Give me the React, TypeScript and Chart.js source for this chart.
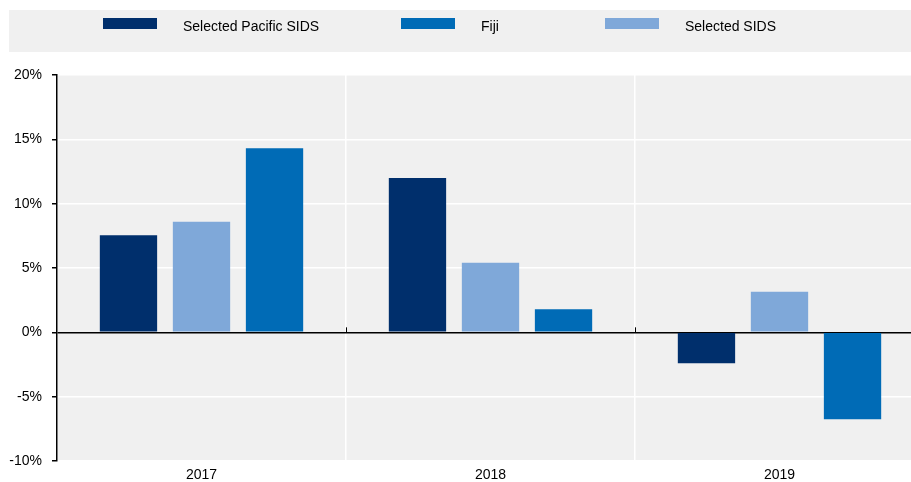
import React, { useEffect, useRef } from "react";
import { Chart, registerables } from "chart.js";

Chart.register(...registerables);

const categories = ["2017", "2018", "2019"];
const pacificSids = [7.55, 12.0, -2.4];
const selectedSids = [8.6, 5.4, 3.15];
const fiji = [14.3, 1.8, -6.75];
const yTicks = [-10, -5, 0, 5, 10, 15, 20];

const seriesNames = ["Selected Pacific SIDS", "Selected SIDS", "Fiji"];
const seriesColors = ["#002F6C", "#7FA8D9", "#006BB6"];
const legendOrder = [0, 2, 1];
const legendItemX = [103, 401, 605];

const FONT = "'Liberation Sans', Arial, sans-serif";
const CANVAS_W = 924;

const bgPlugin = {
  id: "bgPlugin",
  beforeDraw(chart: any) {
    const { ctx, chartArea } = chart;
    ctx.save();
    ctx.fillStyle = "#f0f0f0";
    ctx.fillRect(chartArea.left, chartArea.top, chartArea.right - chartArea.left, chartArea.bottom - chartArea.top);
    ctx.restore();
  },
  afterDraw(chart: any) {
    const { ctx } = chart;
    ctx.save();
    ctx.fillStyle = "#f0f0f0";
    ctx.fillRect(9, 10, chart.width - 9, 42);
    ctx.font = `14px ${FONT}`;
    ctx.textBaseline = "middle";
    ctx.textAlign = "left";
    legendOrder.forEach((di, k) => {
      const ds = chart.data.datasets[di];
      const x = legendItemX[k];
      ctx.fillStyle = ds.backgroundColor;
      ctx.fillRect(x, 18, 54, 11);
      ctx.fillStyle = "#000";
      ctx.fillText(ds.label, x + 80, 27);
    });
    const xs = chart.scales.x;
    const ys = chart.scales.y;
    const y0 = ys.getPixelForValue(0);
    ctx.strokeStyle = "#000";
    ctx.lineWidth = 1;
    for (let i = 0; i < categories.length - 1; i++) {
      const bx = Math.round((xs.getPixelForValue(i) + xs.getPixelForValue(i + 1)) / 2) + 0.5;
      ctx.beginPath();
      ctx.moveTo(bx, y0);
      ctx.lineTo(bx, y0 - 5);
      ctx.stroke();
    }
    ctx.restore();
  },
};

export default function App() {
  const ref = useRef<HTMLCanvasElement | null>(null);
  useEffect(() => {
    if (!ref.current) return;
    const data = [pacificSids, selectedSids, fiji];
    const chart = new Chart(ref.current, {
      type: "bar",
      data: {
        labels: categories,
        datasets: data.map((d, i) => ({
          label: seriesNames[i],
          data: d,
          backgroundColor: seriesColors[i],
          borderWidth: 0,
          categoryPercentage: 0.758,
          barPercentage: 0.785,
        })),
      },
      options: {
        responsive: false,
        animation: false,
        layout: { padding: { top: 75, left: 0, right: 0, bottom: 0 } },
        plugins: { legend: { display: false }, tooltip: { enabled: false } },
        scales: {
          x: {
            offset: true,
            grid: { offset: true, color: "#ffffff", lineWidth: 1.5, drawTicks: false },
            border: { display: false },
            ticks: { color: "#000", font: { family: FONT, size: 14 }, padding: 6 },
            afterFit: (s: any) => { s.height = 21; },
          },
          y: {
            min: -10,
            max: 20,
            afterBuildTicks: (s: any) => { s.ticks = yTicks.map((v) => ({ value: v })); },
            grid: {
              color: (c: any) => (c.tick && c.tick.value === 0 ? "#000000" : "#ffffff"),
              lineWidth: (c: any) => (c.tick && c.tick.value === 0 ? 1.5 : 1.5),
              tickColor: "#000",
              tickLength: 5,
              drawTicks: true,
            },
            border: { display: true, color: "#000", width: 1.5 },
            ticks: {
              color: "#000",
              font: { family: FONT, size: 14 },
              padding: 10,
              callback: (v: any) => `${v}%`,
            },
            afterFit: (s: any) => { s.width = 57; },
          },
        },
      },
      plugins: [bgPlugin],
    });
    return () => chart.destroy();
  }, []);
  return (
    <div style={{ position: "fixed", left: 0, top: 0, width: 911, height: 482, overflow: "hidden", background: "#fff" }}>
      <canvas ref={ref} width={CANVAS_W} height={482} style={{ display: "block", width: CANVAS_W, height: 482 }} />
    </div>
  );
}
